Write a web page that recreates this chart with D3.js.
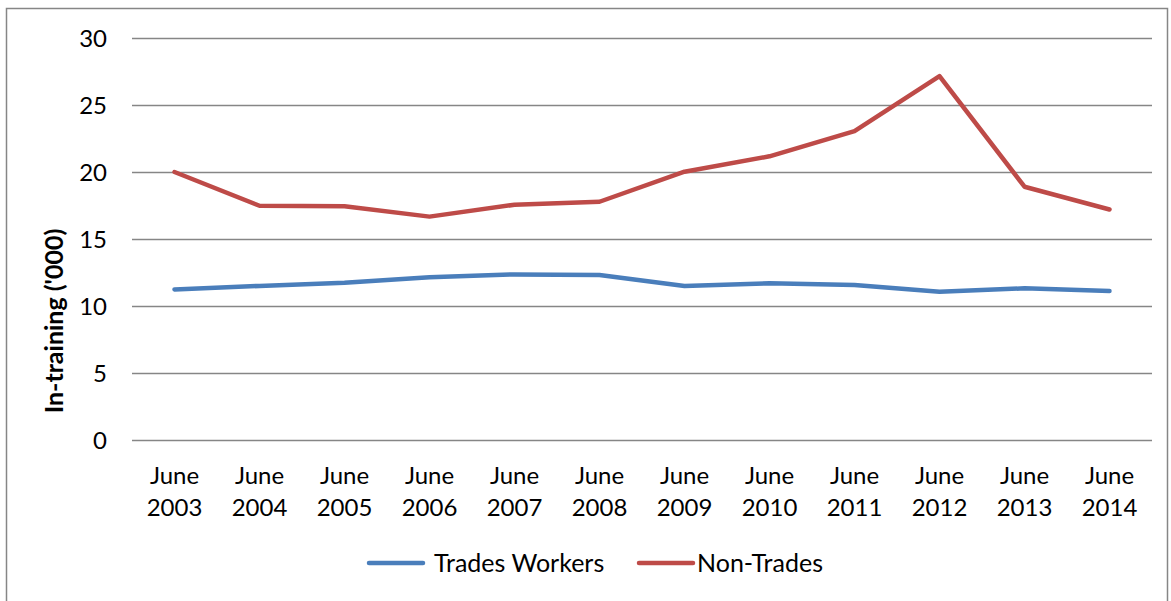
<!DOCTYPE html>
<html>
<head>
<meta charset="utf-8">
<script src="https://cdn.jsdelivr.net/npm/d3@7"></script>
<style>
  body { margin: 0; background: #fff; }
  svg text { font-family: Lato, "Open Sans", sans-serif; fill: #000; }
</style>
</head>
<body>
<svg id="chart" width="1171" height="601"></svg>
<script>
// data
const years = ["2003", "2004", "2005", "2006", "2007", "2008", "2009", "2010", "2011", "2012", "2013", "2014"];
const tradesWorkers = [11.24, 11.5, 11.74, 12.14, 12.36, 12.31, 11.49, 11.69, 11.57, 11.07, 11.32, 11.12];
const nonTrades = [20.0, 17.48, 17.45, 16.67, 17.56, 17.78, 20.02, 21.17, 23.05, 27.15, 18.9, 17.2];
const yTicks = [0, 5, 10, 15, 20, 25, 30];

const series = [
    { name: "Trades Workers", values: tradesWorkers, color: "#4a7ebb" },
    { name: "Non-Trades", values: nonTrades, color: "#be4b48" }
];

const svg = d3.select("#chart");
const plot = { left: 132, right: 1152, top: 38, bottom: 440 };

// chart area border
svg.append("rect")
    .attr("x", 6.5).attr("y", 8.5)
    .attr("width", 1161).attr("height", 600)
    .attr("fill", "none")
    .attr("stroke", "#868686")
    .attr("stroke-width", 1.5);

const x = d3.scaleBand()
    .domain(years)
    .range([plot.left, plot.right]);

const y = d3.scaleLinear()
    .domain([0, 30])
    .range([plot.bottom, plot.top]);

// gridlines + y labels
const yAxis = svg.append("g")
    .attr("transform", `translate(${plot.left},0)`)
    .call(d3.axisLeft(y).tickValues(yTicks).tickSize(-(plot.right - plot.left)).tickPadding(25));
yAxis.select(".domain").remove();
yAxis.selectAll(".tick line").attr("stroke", "#868686").attr("stroke-width", 1.5);
yAxis.selectAll(".tick text")
    .style("font-size", "24px")
    .attr("dy", "0.35em");

// x labels, two lines each
const xLab = svg.append("g")
    .selectAll("text")
    .data(years)
    .join("text")
    .attr("x", d => x(d) + x.bandwidth() / 2)
    .attr("y", 484)
    .attr("text-anchor", "middle")
    .style("font-size", "24px");
xLab.append("tspan").attr("x", d => x(d) + x.bandwidth() / 2).text("June");
xLab.append("tspan").attr("x", d => x(d) + x.bandwidth() / 2).attr("dy", 32).text(d => d);

// y axis title
svg.append("text")
    .attr("transform", "translate(63,321) rotate(-90)")
    .attr("text-anchor", "middle")
    .style("font-size", "25px")
    .style("font-weight", "bold")
    .text("In-training ('000)");

const line = d3.line()
    .x((d, i) => x(years[i]) + x.bandwidth() / 2)
    .y(d => y(d));

svg.append("g")
    .selectAll("path")
    .data(series)
    .join("path")
    .attr("d", d => line(d.values))
    .attr("fill", "none")
    .attr("stroke", d => d.color)
    .attr("stroke-width", 4.5)
    .attr("stroke-linejoin", "round")
    .attr("stroke-linecap", "round");

// legend
const legendX = [369, 639];
const legend = svg.append("g")
    .selectAll("g")
    .data(series)
    .join("g")
    .attr("transform", (d, i) => `translate(${legendX[i]},563)`);
legend.append("line")
    .attr("x1", 0).attr("x2", 54)
    .attr("stroke", d => d.color)
    .attr("stroke-width", 4.5)
    .attr("stroke-linecap", "round");
legend.append("text")
    .attr("x", (d, i) => i === 0 ? 65 : 58)
    .attr("dy", "0.35em")
    .style("font-size", "25px")
    .text(d => d.name);
</script>
</body>
</html>
